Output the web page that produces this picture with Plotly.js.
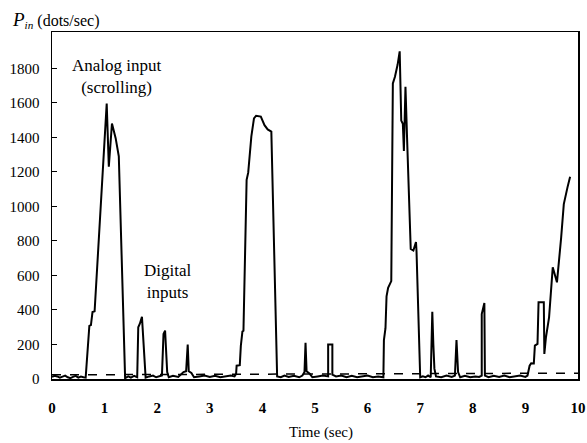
<!DOCTYPE html>
<html>
<head>
<meta charset="utf-8">
<script src="https://cdn.plot.ly/plotly-3.0.1.min.js"></script>
<style>html,body{margin:0;padding:0;background:#fff;}#chart{width:587px;height:443px;}</style>
</head>
<body>
<div id="chart"></div>
<script>
// Measured input rate P_in (dots/sec) vs time (sec)
const timeSec = [
  0, 0.05, 0.1, 0.15, 0.2, 0.25, 0.3, 0.35, 0.4, 0.45, 0.5, 0.55, 0.6, 0.64,
  0.71, 0.74, 0.77, 0.81, 1.04, 1.08, 1.14, 1.21, 1.27, 1.39,
  1.45, 1.5, 1.56, 1.62,
  1.64, 1.67, 1.71, 1.75, 1.78,
  1.85, 1.92, 1.98, 2.05,
  2.09, 2.12, 2.15, 2.19, 2.22,
  2.3, 2.4, 2.5, 2.55, 2.58, 2.6, 2.65, 2.7,
  2.8, 2.9, 3.0, 3.1, 3.2, 3.3, 3.4, 3.47,
  3.5, 3.51, 3.57, 3.59, 3.62, 3.64, 3.70, 3.73, 3.79, 3.84, 3.88, 3.97, 4.04, 4.1, 4.17, 4.28,
  4.35, 4.42, 4.5, 4.6, 4.7, 4.76, 4.8, 4.82, 4.84, 4.9, 4.95,
  5.05, 5.15, 5.25, 5.25, 5.33, 5.33, 5.4, 5.5, 5.6, 5.7, 5.8, 5.9, 6.0, 6.1, 6.2, 6.3,
  6.31, 6.34, 6.36, 6.39, 6.45, 6.48, 6.52, 6.57, 6.61, 6.64, 6.67, 6.69, 6.72, 6.75, 6.79, 6.82, 6.87, 6.92, 6.93, 6.97, 7.0,
  7.05, 7.1, 7.15, 7.2, 7.21, 7.23, 7.25, 7.27, 7.3, 7.4, 7.5, 7.6, 7.66, 7.69, 7.72, 7.76,
  7.85, 7.95, 8.05, 8.12, 8.17, 8.17, 8.22, 8.23, 8.3, 8.4, 8.5, 8.6, 8.7, 8.8, 8.9, 9.0, 9.04,
  9.08, 9.11, 9.16, 9.18, 9.23, 9.25, 9.35, 9.36, 9.39, 9.45, 9.52, 9.60, 9.68, 9.73, 9.80, 9.85
];
const inputRate = [
  12, 18, 15, 8, 14, 20, 10, 5, 12, 18, 8, 14, 10, 8,
  308, 312, 388, 392, 1595, 1230, 1480, 1395, 1290, 5,
  15, 8, 18, 10,
  300, 320, 360, 120, 8,
  15, 20, 10, 15,
  20, 260, 280, 40, 10,
  18, 12, 40, 45, 200, 45, 35, 10,
  15, 20, 12, 18, 10, 15, 20, 15,
  30, 77, 80, 192, 275, 280, 1154, 1195, 1405, 1510, 1525, 1520, 1470, 1446, 1433, 15,
  10, 20, 12, 18, 10, 20, 40, 210, 45, 30, 10,
  15, 20, 15, 200, 200, 25, 15, 20, 10, 18, 10, 15, 20, 10, 15, 10,
  225, 294, 479, 528, 567, 1712, 1751, 1820, 1898, 1497, 1478, 1321, 1693, 1399, 1027, 753, 744, 793, 740, 225, 10,
  15, 10, 20, 10, 140, 390, 200, 60, 15, 10, 20, 12, 20, 225, 40, 10,
  18, 10, 15, 12, 20, 376, 440, 20, 10, 18, 12, 20, 10, 15, 20, 12, 20,
  77, 91, 90, 193, 203, 444, 444, 145, 240, 357, 647, 560, 820, 1013, 1110, 1172
];
// Dashed reference level
const refTime = [0, 10];
const refRate = [24, 34];
const yTicks = [0, 200, 400, 600, 800, 1000, 1200, 1400, 1600, 1800];
const xTicks = [0, 1, 2, 3, 4, 5, 6, 7, 8, 9, 10];

const serif = '"Liberation Serif", "Times New Roman", serif';

const data = [
  {x: refTime, y: refRate, mode: 'lines', line: {color: '#000', width: 1.5, dash: 'dash'}, hoverinfo: 'skip'},
  {x: timeSec, y: inputRate, mode: 'lines', line: {color: '#000', width: 2}, hoverinfo: 'skip'}
];

const layout = {
  width: 587, height: 443,
  margin: {l: 52, r: 9, t: 32, b: 64},
  paper_bgcolor: '#fff', plot_bgcolor: '#fff',
  showlegend: false,
  font: {family: serif, color: '#000'},
  xaxis: {
    range: [0, 10], tickvals: xTicks, ticktext: xTicks.map(v => '<b>' + v + '</b>'),
    showgrid: false, zeroline: false, showline: true, mirror: true,
    linecolor: '#000', linewidth: 1.5, ticks: '', tickfont: {size: 15, family: serif},
    ticklabelstandoff: 14,
    fixedrange: true
  },
  yaxis: {
    range: [0, 2010], tickvals: yTicks, showgrid: false, zeroline: false,
    showline: true, mirror: true, linecolor: '#000', linewidth: 1.5,
    ticks: 'inside', ticklen: 5, tickcolor: '#000', tickfont: {size: 15, family: serif},
    ticklabelstandoff: 8,
    fixedrange: true
  },
  annotations: [
    {xref: 'paper', yref: 'paper', x: 0.512, y: -0.153, text: 'Time (sec)', showarrow: false,
     font: {size: 15, family: serif}, xanchor: 'center', yanchor: 'middle'},
    {xref: 'paper', yref: 'paper', x: -0.08, y: 1.035, text: '<i><span style="font-size:19px">P</span></i><sub><i>in</i></sub> (dots/sec)', showarrow: false,
     font: {size: 16, family: serif}, xanchor: 'left', yanchor: 'middle'},
    {x: 1.24, y: 1750, text: 'Analog input<br>(scrolling)', showarrow: false,
     font: {size: 17, family: serif}, xanchor: 'center', yanchor: 'middle'},
    {x: 2.19, y: 563, text: 'Digital<br>inputs', showarrow: false,
     font: {size: 17, family: serif}, xanchor: 'center', yanchor: 'middle'}
  ]
};

Plotly.newPlot('chart', data, layout, {staticPlot: true, displayModeBar: false});
</script>
</body>
</html>
